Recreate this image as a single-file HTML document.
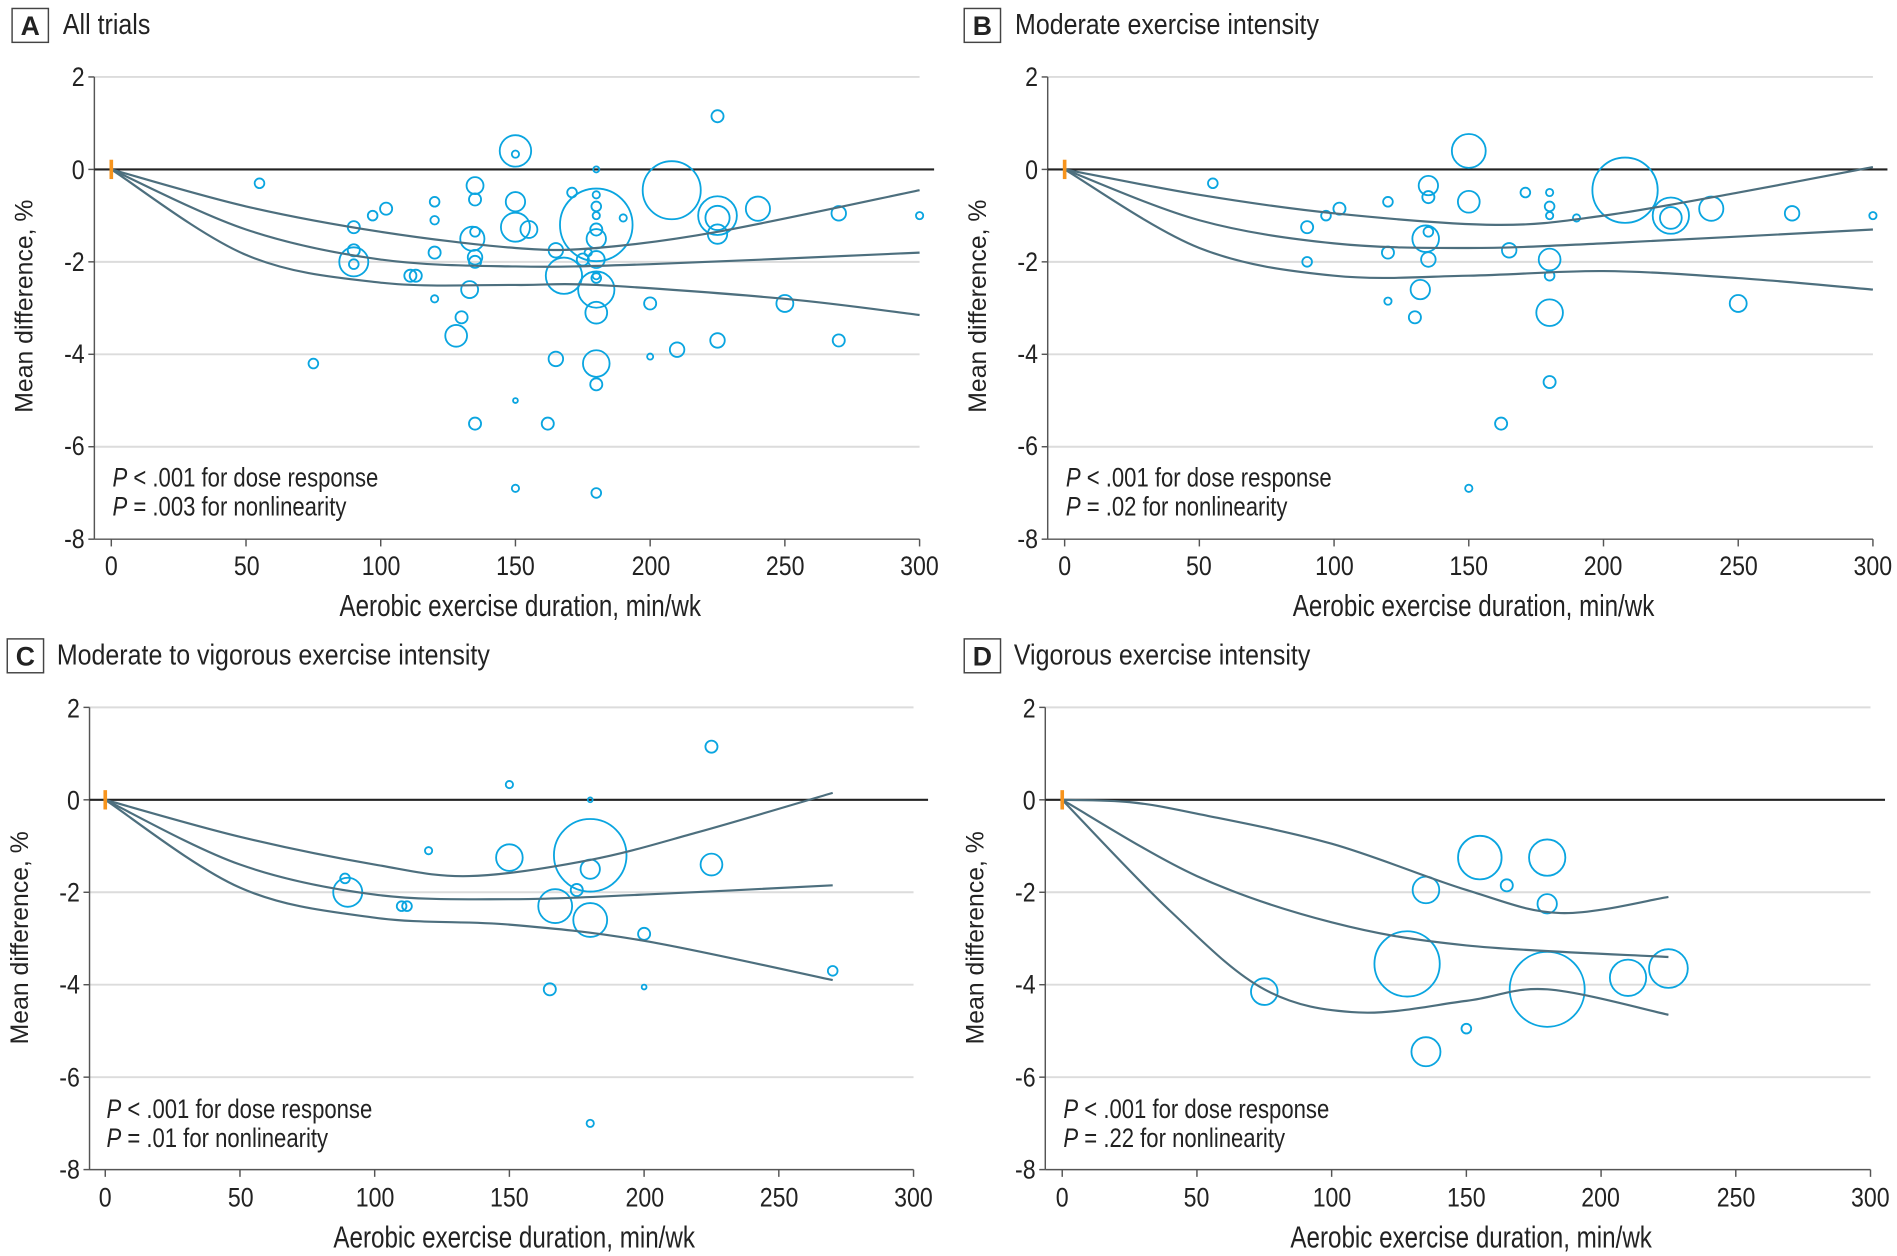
<!DOCTYPE html>
<html><head><meta charset="utf-8"><style>
html,body{margin:0;padding:0;background:#fff}
svg{display:block}
text{font-family:"Liberation Sans Narrow","Liberation Sans",sans-serif;fill:#222}
.t{font-size:24px}
.x{font-size:25px}
.k{font-size:22px}
.yt{font-family:"Liberation Sans",sans-serif;font-size:20.5px}
.p{font-size:22px}
</style></head><body>
<svg id="s" width="1897" height="1256" viewBox="0 0 1568 1038" preserveAspectRatio="none" xmlns="http://www.w3.org/2000/svg">
<g id="shapes"></g>
<!-- Panel A -->
<rect x="10" y="7" width="30" height="28" fill="none" stroke="#444" stroke-width="1.2"/>
<text x="25" y="29" text-anchor="middle" class="k" font-weight="bold">A</text>
<text x="52" y="28" class="t n" data-s="0.86">All trials</text>
<g class="k" text-anchor="end"><text x="70" y="71">2</text><text x="70" y="148">0</text><text x="70" y="224">-2</text><text x="70" y="300">-4</text><text x="70" y="376">-6</text><text x="70" y="453">-8</text></g>
<g class="k" text-anchor="middle"><text x="92" y="475">0</text><text x="204" y="475">50</text><text x="315" y="475">100</text><text x="426" y="475">150</text><text x="538" y="475">200</text><text x="649" y="475">250</text><text x="760" y="475">300</text></g>
<text x="430" y="509" class="x n" text-anchor="middle">Aerobic exercise duration, min/wk</text>
<text transform="translate(27,253) rotate(-90)" class="yt" text-anchor="middle">Mean difference, %</text>
<text x="93" y="402" class="p n"><tspan font-style="italic">P</tspan> &lt; .001 for dose response</text>
<text x="93" y="426" class="p n"><tspan font-style="italic">P</tspan> = .003 for nonlinearity</text>
<!-- Panel B -->
<rect x="797" y="7" width="30" height="28" fill="none" stroke="#444" stroke-width="1.2"/>
<text x="812" y="29" text-anchor="middle" class="k" font-weight="bold">B</text>
<text x="839" y="28" class="t n" data-s="0.86">Moderate exercise intensity</text>
<g class="k" text-anchor="end"><text x="858" y="71">2</text><text x="858" y="148">0</text><text x="858" y="224">-2</text><text x="858" y="300">-4</text><text x="858" y="376">-6</text><text x="858" y="453">-8</text></g>
<g class="k" text-anchor="middle"><text x="880" y="475">0</text><text x="991" y="475">50</text><text x="1103" y="475">100</text><text x="1214" y="475">150</text><text x="1325" y="475">200</text><text x="1437" y="475">250</text><text x="1548" y="475">300</text></g>
<text x="1218" y="509" class="x n" text-anchor="middle">Aerobic exercise duration, min/wk</text>
<text transform="translate(815,253) rotate(-90)" class="yt" text-anchor="middle">Mean difference, %</text>
<text x="881" y="402" class="p n"><tspan font-style="italic">P</tspan> &lt; .001 for dose response</text>
<text x="881" y="426" class="p n"><tspan font-style="italic">P</tspan> = .02 for nonlinearity</text>
<!-- Panel C -->
<rect x="6" y="528" width="30" height="28" fill="none" stroke="#444" stroke-width="1.2"/>
<text x="21" y="550" text-anchor="middle" class="k" font-weight="bold">C</text>
<text x="47" y="549" class="t n" data-s="0.86">Moderate to vigorous exercise intensity</text>
<g class="k" text-anchor="end"><text x="66" y="593">2</text><text x="66" y="669">0</text><text x="66" y="745">-2</text><text x="66" y="821">-4</text><text x="66" y="898">-6</text><text x="66" y="974">-8</text></g>
<g class="k" text-anchor="middle"><text x="87" y="997">0</text><text x="199" y="997">50</text><text x="310" y="997">100</text><text x="421" y="997">150</text><text x="533" y="997">200</text><text x="644" y="997">250</text><text x="755" y="997">300</text></g>
<text x="425" y="1031" class="x n" text-anchor="middle">Aerobic exercise duration, min/wk</text>
<text transform="translate(23,775) rotate(-90)" class="yt" text-anchor="middle">Mean difference, %</text>
<text x="88" y="924" class="p n"><tspan font-style="italic">P</tspan> &lt; .001 for dose response</text>
<text x="88" y="948" class="p n"><tspan font-style="italic">P</tspan> = .01 for nonlinearity</text>
<!-- Panel D -->
<rect x="797" y="528" width="30" height="28" fill="none" stroke="#444" stroke-width="1.2"/>
<text x="812" y="550" text-anchor="middle" class="k" font-weight="bold">D</text>
<text x="838" y="549" class="t n" data-s="0.86">Vigorous exercise intensity</text>
<g class="k" text-anchor="end"><text x="856" y="593">2</text><text x="856" y="669">0</text><text x="856" y="745">-2</text><text x="856" y="821">-4</text><text x="856" y="898">-6</text><text x="856" y="974">-8</text></g>
<g class="k" text-anchor="middle"><text x="878" y="997">0</text><text x="989" y="997">50</text><text x="1101" y="997">100</text><text x="1212" y="997">150</text><text x="1323" y="997">200</text><text x="1435" y="997">250</text><text x="1546" y="997">300</text></g>
<text x="1216" y="1031" class="x n" text-anchor="middle">Aerobic exercise duration, min/wk</text>
<text transform="translate(813,775) rotate(-90)" class="yt" text-anchor="middle">Mean difference, %</text>
<text x="879" y="924" class="p n"><tspan font-style="italic">P</tspan> &lt; .001 for dose response</text>
<text x="879" y="948" class="p n"><tspan font-style="italic">P</tspan> = .22 for nonlinearity</text>
</svg>
<script>
var NS="http://www.w3.org/2000/svg",G=document.getElementById("shapes");
Array.prototype.forEach.call(document.querySelectorAll("text.n, .k text"),function(t){
 var x=parseFloat(t.getAttribute("x"));
 var s=t.getAttribute("data-s")||(t.classList.contains("x")?"0.8":t.classList.contains("p")?"0.83":"0.87");
 t.setAttribute("transform","translate("+x+",0) scale("+s+",1) translate("+(-x)+",0)");
});
function el(n,a){var e=document.createElementNS(NS,n);for(var k in a)e.setAttribute(k,a[k]);G.appendChild(e);return e;}
function panel(ax,x0,y0,circles,curves){
 var sx=2.227,sy=38.2,X=function(v){return x0+v*sx},Y=function(v){return y0-v*sy};
 [2,-2,-4,-6].forEach(function(v){el("line",{x1:ax,x2:X(300),y1:Y(v),y2:Y(v),stroke:"#dcdcdc","stroke-width":1.6});});
 el("line",{x1:ax,x2:ax,y1:Y(2),y2:Y(-8),stroke:"#555","stroke-width":1.2});
 el("line",{x1:ax,x2:X(300),y1:Y(-8),y2:Y(-8),stroke:"#555","stroke-width":1.2});
 for(var v=2;v>=-8;v-=2)el("line",{x1:ax-5,x2:ax,y1:Y(v),y2:Y(v),stroke:"#555","stroke-width":1.2});
 for(var t=0;t<=300;t+=50)el("line",{x1:X(t),x2:X(t),y1:Y(-8),y2:Y(-8)+6,stroke:"#555","stroke-width":1.2});
 el("line",{x1:ax,x2:X(300)+12,y1:y0,y2:y0,stroke:"#222","stroke-width":1.8});
 circles.forEach(function(c){el("circle",{cx:X(c[0]),cy:Y(c[1]),r:c[2],fill:"none",stroke:"#0aa5e0","stroke-width":1.5});});
 curves.forEach(function(pts){
  var p=pts.map(function(q){return [X(q[0]),Y(q[1])]}),d="M"+p[0][0]+","+p[0][1];
  for(var i=0;i<p.length-1;i++){var a=p[i-1]||p[i],b=p[i],c=p[i+1],e=p[i+2]||c;
   d+=" C"+(b[0]+(c[0]-a[0])/6)+","+(b[1]+(c[1]-a[1])/6)+" "+(c[0]-(e[0]-b[0])/6)+","+(c[1]-(e[1]-b[1])/6)+" "+c[0]+","+c[1];}
  el("path",{d:d,fill:"none",stroke:"#4d6f7e","stroke-width":1.8});});
 el("line",{x1:X(0),x2:X(0),y1:y0-8,y2:y0+8,stroke:"#f7941d","stroke-width":3});
}
var A=[[55,-0.3,4],[75,-4.2,4],[90,-1.25,5],[90,-1.75,5],[90,-2.0,12],[90,-2.05,4],[97,-1.0,4],[102,-0.85,5],[111,-2.3,5],[113,-2.3,5],[120,-0.7,4],[120,-1.1,3.5],[120,-1.8,5],[120,-2.8,3],[128,-3.6,9],[130,-3.2,5],[133,-2.6,7],[134,-1.5,10],[135,-0.35,7],[135,-0.65,5],[135,-1.35,4],[135,-1.9,6],[135,-2.0,5],[135,-5.5,5],[150,0.4,13],[150,0.33,3],[150,-0.7,8],[150,-1.25,12],[150,-5.0,2],[150,-6.9,3],[155,-1.3,7],[162,-5.5,5],[165,-1.75,6],[165,-4.1,6],[168,-2.3,15],[171,-0.5,4],[175,-1.95,5],[177,-1.8,3],[180,-1.2,30],[180,0,2.5],[180,-0.55,3],[180,-0.8,4],[180,-1.0,3],[180,-1.3,5],[180,-1.5,8],[180,-1.95,7],[180,-2.3,3],[180,-2.35,4],[180,-2.6,15],[180,-3.1,9],[180,-4.2,11],[180,-4.65,5],[180,-7.0,4],[190,-1.05,3],[200,-2.9,5],[200,-4.05,2.5],[208,-0.45,24],[210,-3.9,6],[225,1.15,5],[225,-1.0,16],[225,-1.05,10],[225,-1.4,8],[225,-3.7,6],[240,-0.85,10],[250,-2.9,7],[270,-0.95,6],[270,-3.7,5],[300,-1.0,3]];
panel(78,92,140,A,[
 [[0,0],[50,-0.8],[100,-1.35],[150,-1.7],[180,-1.7],[225,-1.35],[300,-0.45]],
 [[0,0],[50,-1.3],[100,-1.95],[150,-2.1],[200,-2.05],[300,-1.8]],
 [[0,0],[50,-1.85],[100,-2.45],[150,-2.5],[180,-2.5],[250,-2.8],[300,-3.15]]]);
var B=[[55,-0.3,4],[90,-1.25,5],[90,-2.0,4],[97,-1.0,4],[102,-0.85,5],[120,-0.7,4],[120,-1.8,5],[120,-2.85,3],[130,-3.2,5],[132,-2.6,8],[135,-0.35,8],[135,-0.6,5],[135,-1.35,4],[134,-1.5,11],[135,-1.95,6],[150,0.4,14],[150,-0.7,9],[150,-6.9,3],[162,-5.5,5],[165,-1.75,6],[171,-0.5,4],[180,-0.5,3],[180,-0.8,4],[180,-1.0,3],[180,-1.95,9],[180,-2.3,4],[180,-3.1,11],[180,-4.6,5],[190,-1.05,3],[208,-0.45,27],[225,-1.0,15],[225,-1.05,9],[240,-0.85,10],[250,-2.9,7],[270,-0.95,6],[300,-1.0,3]];
panel(866,880,140,B,[
 [[0,0],[50,-0.55],[100,-0.95],[160,-1.2],[200,-1.0],[250,-0.5],[300,0.05]],
 [[0,0],[50,-1.1],[100,-1.6],[150,-1.7],[200,-1.6],[300,-1.3]],
 [[0,0],[50,-1.7],[100,-2.3],[150,-2.3],[200,-2.2],[250,-2.35],[300,-2.6]]]);
var C=[[89,-1.7,4],[90,-2.0,12],[110,-2.3,4],[112,-2.3,4],[120,-1.1,3],[150,0.33,3],[150,-1.25,11],[165,-4.1,5],[167,-2.3,14],[175,-1.95,5],[180,0,2],[180,-1.2,30],[180,-1.5,8],[180,-2.6,14],[180,-7.0,3],[200,-2.9,5],[200,-4.05,2],[225,1.15,5],[225,-1.4,9],[270,-3.7,4]];
panel(74,87,661,C,[
 [[0,0],[50,-0.8],[100,-1.4],[135,-1.65],[180,-1.3],[220,-0.7],[270,0.15]],
 [[0,0],[50,-1.4],[100,-2.05],[150,-2.15],[200,-2.05],[270,-1.85]],
 [[0,0],[50,-1.9],[100,-2.55],[150,-2.7],[200,-3.05],[270,-3.9]]]);
var D=[[75,-4.15,11],[128,-3.55,27],[135,-1.95,11],[135,-5.45,12],[150,-4.95,4],[155,-1.25,18],[165,-1.85,5],[180,-1.25,15],[180,-2.25,8],[180,-4.1,31],[210,-3.85,15],[225,-3.65,16]];
panel(864,878,661,D,[
 [[0,0],[25,-0.05],[50,-0.3],[100,-0.95],[150,-1.95],[185,-2.45],[225,-2.1]],
 [[0,0],[50,-1.65],[100,-2.65],[150,-3.15],[225,-3.4]],
 [[0,0],[40,-2.4],[75,-4.1],[110,-4.6],[150,-4.35],[180,-4.1],[225,-4.65]]]);
</script>
</body></html>
